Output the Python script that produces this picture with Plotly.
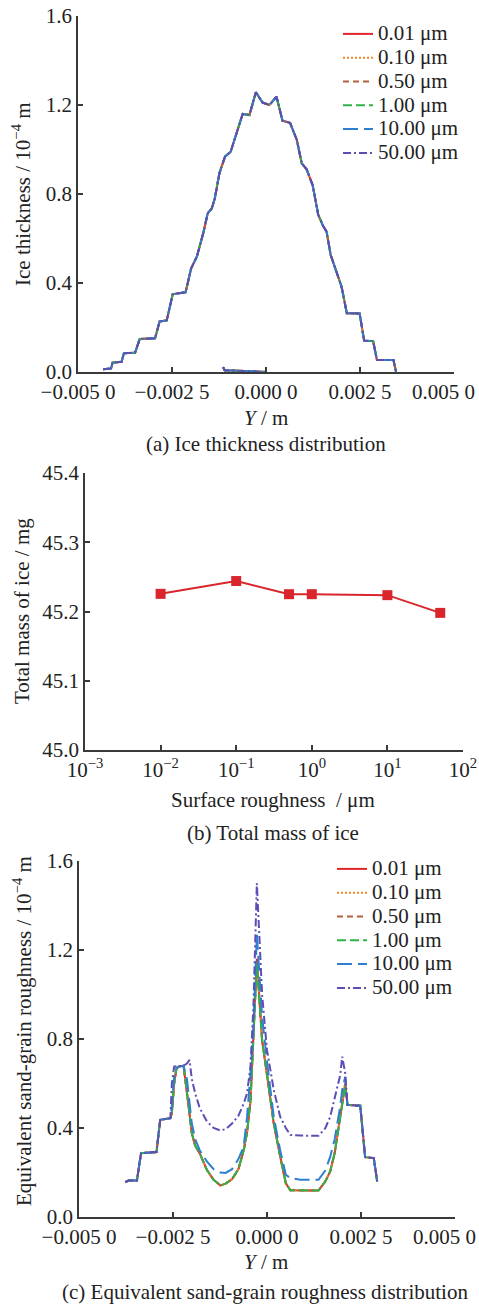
import plotly.graph_objects as go

# ---------------- data ----------------
SERIES = ["0.01 μm", "0.10 μm", "0.50 μm", "1.00 μm", "10.00 μm", "50.00 μm"]
COLORS = ["#e0262a", "#f7852a", "#b0603a", "#2fb24a", "#2f7fd0", "#5a4fb5"]
DASHES = ["solid", "2px,2px", "6px,4px", "9px,4px", "15px,6px", "8px,3px,2px,3px"]

# (a) ice thickness distribution (all roughness values coincide)
ICE_Y = [-4.33e-3, -4.12e-3, -4.08e-3, -3.84e-3, -3.78e-3, -3.48e-3, -3.36e-3, -2.95e-3,
         -2.83e-3, -2.64e-3, -2.48e-3, -2.14e-3, -1.99e-3, -1.84e-3, -1.67e-3, -1.55e-3,
         -1.44e-3, -1.36e-3, -1.24e-3, -1.09e-3, -0.94e-3, -0.62e-3, -0.44e-3, -0.27e-3,
         -0.09e-3, 0.09e-3, 0.28e-3, 0.44e-3, 0.64e-3, 0.82e-3, 0.95e-3, 1.08e-3, 1.24e-3,
         1.39e-3, 1.52e-3, 1.61e-3, 1.72e-3, 2.01e-3, 2.15e-3, 2.49e-3, 2.61e-3, 2.85e-3,
         2.95e-3, 3.39e-3, 3.46e-3,
         None, -1.14e-3, -1.10e-3, -0.60e-3, 0.0]
ICE_T = [0.012, 0.016, 0.042, 0.046, 0.084, 0.087, 0.148, 0.152,
         0.227, 0.232, 0.350, 0.358, 0.466, 0.518, 0.623, 0.713,
         0.736, 0.781, 0.893, 0.968, 0.990, 1.160, 1.155, 1.257,
         1.211, 1.200, 1.237, 1.129, 1.120, 1.043, 0.938, 0.911, 0.840,
         0.706, 0.656, 0.631, 0.526, 0.383, 0.264, 0.263, 0.141, 0.139,
         0.054, 0.054, 0.0,
         None, 0.022, 0.008, 0.005, 0.0]

# (b) total mass of ice
ROUGH = [0.01, 0.1, 0.5, 1.0, 10.0, 50.0]
MASS = [45.2255, 45.244, 45.225, 45.225, 45.2236, 45.198]

# (c) equivalent sand-grain roughness
KS_Y = [-3.77e-3, -3.68e-3, -3.46e-3, -3.35e-3, -2.94e-3, -2.84e-3, -2.57e-3, -2.53e-3,
        -2.47e-3, -2.41e-3, -2.35e-3, -2.22e-3, -2.13e-3, -2.06e-3, -2.00e-3, -1.91e-3,
        -1.79e-3, -1.60e-3, -1.42e-3, -1.24e-3, -1.10e-3, -0.93e-3, -0.76e-3, -0.62e-3,
        -0.53e-3, -0.44e-3, -0.36e-3, -0.27e-3, -0.13e-3, 0.0, 0.18e-3, 0.35e-3,
        0.50e-3, 0.62e-3, 0.89e-3, 1.37e-3, 1.55e-3, 1.68e-3, 1.80e-3, 1.95e-3,
        2.00e-3, 2.08e-3, 2.14e-3, 2.48e-3, 2.61e-3, 2.84e-3, 2.93e-3]
KS_001 = [0.157, 0.164, 0.164, 0.287, 0.292, 0.437, 0.444, 0.467,
          0.600, 0.665, 0.676, 0.680, 0.560, 0.467, 0.377, 0.320,
          0.287, 0.212, 0.167, 0.142, 0.150, 0.170, 0.215, 0.300,
          0.380, 0.520, 0.795, 1.160, 0.795, 0.646, 0.420, 0.272,
          0.152, 0.120, 0.119, 0.119, 0.160, 0.205, 0.287, 0.451,
          0.520, 0.601, 0.504, 0.500, 0.269, 0.265, 0.160]
KS_010 = [0.157, 0.164, 0.164, 0.287, 0.292, 0.437, 0.444, 0.467,
          0.600, 0.665, 0.676, 0.680, 0.560, 0.467, 0.377, 0.320,
          0.287, 0.212, 0.167, 0.142, 0.150, 0.170, 0.215, 0.300,
          0.380, 0.520, 0.795, 1.150, 0.795, 0.646, 0.420, 0.272,
          0.152, 0.120, 0.119, 0.119, 0.160, 0.205, 0.287, 0.451,
          0.520, 0.600, 0.504, 0.500, 0.269, 0.265, 0.160]
KS_050 = [0.157, 0.164, 0.164, 0.287, 0.292, 0.437, 0.444, 0.467,
          0.600, 0.665, 0.676, 0.680, 0.560, 0.467, 0.377, 0.320,
          0.287, 0.212, 0.167, 0.142, 0.150, 0.170, 0.215, 0.300,
          0.380, 0.520, 0.795, 1.150, 0.795, 0.646, 0.420, 0.272,
          0.152, 0.120, 0.119, 0.119, 0.160, 0.205, 0.287, 0.451,
          0.520, 0.598, 0.504, 0.500, 0.269, 0.265, 0.160]
KS_100 = [0.157, 0.164, 0.164, 0.287, 0.292, 0.437, 0.444, 0.467,
          0.600, 0.665, 0.676, 0.680, 0.560, 0.467, 0.377, 0.320,
          0.287, 0.212, 0.167, 0.142, 0.150, 0.170, 0.215, 0.300,
          0.380, 0.520, 0.790, 1.135, 0.790, 0.646, 0.420, 0.272,
          0.152, 0.120, 0.119, 0.119, 0.160, 0.205, 0.287, 0.451,
          0.520, 0.590, 0.504, 0.500, 0.269, 0.265, 0.160]
KS_1000 = [0.157, 0.164, 0.164, 0.287, 0.292, 0.437, 0.444, 0.500,
           0.630, 0.670, 0.676, 0.680, 0.620, 0.520, 0.420, 0.350,
           0.300, 0.250, 0.215, 0.200, 0.198, 0.215, 0.260, 0.317,
           0.451, 0.646, 0.850, 1.270, 0.900, 0.700, 0.450, 0.300,
           0.190, 0.175, 0.167, 0.167, 0.209, 0.270, 0.350, 0.500,
           0.571, 0.630, 0.504, 0.500, 0.269, 0.265, 0.160]
KS_5000 = [0.157, 0.164, 0.164, 0.287, 0.292, 0.437, 0.444, 0.600,
           0.676, 0.676, 0.678, 0.680, 0.690, 0.706, 0.620, 0.556,
           0.490, 0.430, 0.400, 0.389, 0.395, 0.420, 0.455, 0.510,
           0.556, 0.676, 0.950, 1.500, 1.000, 0.750, 0.571, 0.451,
           0.400, 0.369, 0.366, 0.365, 0.399, 0.450, 0.530, 0.640,
           0.721, 0.646, 0.504, 0.500, 0.269, 0.265, 0.160]
KS_ALL = [KS_001, KS_010, KS_050, KS_100, KS_1000, KS_5000]

POS_TICKS = [-0.005, -0.0025, 0.0, 0.0025, 0.005]
# trailing en spaces keep the last label inside the page, as in the reference
POS_TEXT = ["−0.005 0", "−0.002 5", "0.000 0", "0.002 5", "0.005 0\u2002\u2002"]
LOG_TICKS = [0.001, 0.01, 0.1, 1, 10, 100]
LOG_TEXT = ["10<sup>−3</sup>", "10<sup>−2</sup>", "10<sup>−1</sup>",
            "10<sup>0</sup>", "10<sup>1</sup>", "10<sup>2</sup>"]

# ---------------- figure ----------------
W, H = 479, 1305
FONT = "Liberation Serif"
AX = "#3a3a3a"


def px_x(p):
    return p / W


def px_y(p):
    return 1 - p / H


fig = go.Figure()

for name, col, dash in zip(SERIES, COLORS, DASHES):
    fig.add_trace(go.Scatter(
        x=ICE_Y, y=ICE_T, mode="lines", name=f"<span style='font-size:21px'>{name}</span>",
        line=dict(color=col, width=2, dash=dash), xaxis="x", yaxis="y",
        legend="legend", connectgaps=False))

fig.add_trace(go.Scatter(
    x=ROUGH, y=MASS, mode="lines+markers", showlegend=False,
    line=dict(color="#d8262c", width=2),
    marker=dict(symbol="square", size=10, color="#d8262c"),
    xaxis="x2", yaxis="y2"))

for name, col, dash, ks in zip(SERIES, COLORS, DASHES, KS_ALL):
    fig.add_trace(go.Scatter(
        x=KS_Y, y=ks, mode="lines", name=f"<span style='font-size:21px'>{name}</span>",
        line=dict(color=col, width=2, dash=dash), xaxis="x3", yaxis="y3",
        legend="legend2"))

axis_common = dict(showline=True, linecolor=AX, linewidth=1.5, ticks="inside",
                   ticklen=5, tickwidth=1.5, tickcolor=AX, showgrid=False,
                   zeroline=False, automargin=False, ticklabeloverflow="allow",
                   tickfont=dict(family=FONT, size=21, color="#222"),
                   mirror=False)

fig.update_layout(
    template="none",
    width=W, height=H, margin=dict(l=0, r=0, t=0, b=0, pad=0, autoexpand=False),
    paper_bgcolor="white", plot_bgcolor="white",
    font=dict(family=FONT, size=21, color="#222"),
    xaxis=dict(domain=[px_x(78), px_x(454)], range=[-0.005, 0.005],
               tickvals=POS_TICKS, ticktext=POS_TEXT, anchor="y", **axis_common),
    yaxis=dict(domain=[px_y(372), px_y(16)], range=[0, 1.6], tickvals=[0, 0.4, 0.8, 1.2, 1.6],
               tickformat=".1f", anchor="x", **axis_common),
    xaxis2=dict(domain=[px_x(85), px_x(463)], type="log", range=[-3, 2],
                tickvals=LOG_TICKS, ticktext=LOG_TEXT, anchor="y2", **axis_common),
    yaxis2=dict(domain=[px_y(750), px_y(473)], range=[45.0, 45.4],
                tickvals=[45.0, 45.1, 45.2, 45.3, 45.4], tickformat=".1f", anchor="x2",
                **axis_common),
    xaxis3=dict(domain=[px_x(79), px_x(455)], range=[-0.005, 0.005],
                tickvals=POS_TICKS, ticktext=POS_TEXT, anchor="y3", **axis_common),
    yaxis3=dict(domain=[px_y(1217), px_y(861)], range=[0, 1.6],
                tickvals=[0, 0.4, 0.8, 1.2, 1.6], tickformat=".1f", anchor="x3",
                **axis_common),
    legend=dict(x=px_x(338), y=px_y(17), xanchor="left", yanchor="top",
                bgcolor="rgba(0,0,0,0)", font=dict(family=FONT, size=16, color="#222"),
                tracegroupgap=0, borderwidth=0),
    legend2=dict(x=px_x(332), y=px_y(852), xanchor="left", yanchor="top",
                 bgcolor="rgba(0,0,0,0)", font=dict(family=FONT, size=16, color="#222"),
                 tracegroupgap=0, borderwidth=0),
)

ann_font = dict(family=FONT, size=21, color="#222")
annotations = [
    dict(text="Ice thickness / 10<sup>−4</sup> m", x=px_x(22), y=px_y(194), textangle=-90),
    dict(text="<i>Y</i> / m", x=px_x(266), y=px_y(418)),
    dict(text="(a) Ice thickness distribution", x=px_x(266), y=px_y(444)),
    dict(text="Total mass of ice / mg", x=px_x(22), y=px_y(611), textangle=-90),
    dict(text="Surface roughness  / μm", x=px_x(273), y=px_y(800)),
    dict(text="(b) Total mass of ice", x=px_x(273), y=px_y(833)),
    dict(text="Equivalent sand-grain roughness / 10<sup>−4</sup> m", x=px_x(22),
         y=px_y(1031), textangle=-90),
    dict(text="<i>Y</i> / m", x=px_x(266), y=px_y(1262)),
    dict(text="(c) Equivalent sand-grain roughness distribution", x=px_x(265), y=px_y(1292)),
]
for a in annotations:
    a.update(xref="paper", yref="paper", showarrow=False, font=ann_font,
             xanchor="center", yanchor="middle")
fig.update_layout(annotations=annotations)

fig.write_html("out.html")
